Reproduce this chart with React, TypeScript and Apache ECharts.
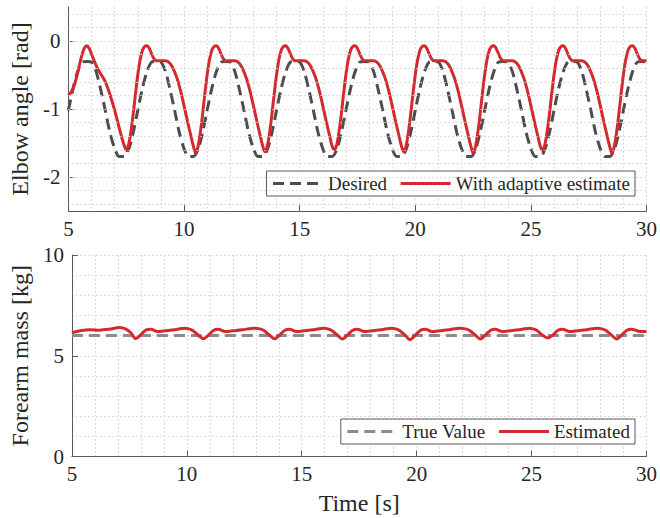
import React, { useEffect, useRef } from 'react';
import * as echarts from 'echarts';

// ---------- data ----------
const X_TICKS = [5, 10, 15, 20, 25, 30];
const ANGLE_TICKS = [-2, -1, 0];
const ANGLE_GRID = [0.4, 0.2, 0, -0.2, -0.4, -0.6, -0.8, -1, -1.2, -1.4, -1.6, -1.8, -2, -2.2, -2.4];
const MASS_TICKS = [0, 5, 10];

// Elbow angle, desired trajectory [time s, rad]
const desiredAngle: [number, number][] = [
  [5.0, -1.02], [5.2, -0.70], [5.4, -0.45], [5.6, -0.31], [5.8, -0.30], [6.0, -0.31], [6.2, -0.45], [6.4, -0.72], [6.6, -1.03], [6.8, -1.35], [7.0, -1.58], [7.2, -1.70], [7.4, -1.70], [7.6, -1.60], [7.8, -1.35],
  [8.0, -1.02], [8.2, -0.70], [8.4, -0.45], [8.6, -0.31], [8.8, -0.30], [9.0, -0.31], [9.2, -0.45], [9.4, -0.72], [9.6, -1.03], [9.8, -1.35], [10.0, -1.58], [10.2, -1.70], [10.4, -1.70], [10.6, -1.60], [10.8, -1.35],
  [11.0, -1.02], [11.2, -0.70], [11.4, -0.45], [11.6, -0.31], [11.8, -0.30], [12.0, -0.31], [12.2, -0.45], [12.4, -0.72], [12.6, -1.03], [12.8, -1.35], [13.0, -1.58], [13.2, -1.70], [13.4, -1.70], [13.6, -1.60], [13.8, -1.35],
  [14.0, -1.02], [14.2, -0.70], [14.4, -0.45], [14.6, -0.31], [14.8, -0.30], [15.0, -0.31], [15.2, -0.45], [15.4, -0.72], [15.6, -1.03], [15.8, -1.35], [16.0, -1.58], [16.2, -1.70], [16.4, -1.70], [16.6, -1.60], [16.8, -1.35],
  [17.0, -1.02], [17.2, -0.70], [17.4, -0.45], [17.6, -0.31], [17.8, -0.30], [18.0, -0.31], [18.2, -0.45], [18.4, -0.72], [18.6, -1.03], [18.8, -1.35], [19.0, -1.58], [19.2, -1.70], [19.4, -1.70], [19.6, -1.60], [19.8, -1.35],
  [20.0, -1.02], [20.2, -0.70], [20.4, -0.45], [20.6, -0.31], [20.8, -0.30], [21.0, -0.31], [21.2, -0.45], [21.4, -0.72], [21.6, -1.03], [21.8, -1.35], [22.0, -1.58], [22.2, -1.70], [22.4, -1.70], [22.6, -1.60], [22.8, -1.35],
  [23.0, -1.02], [23.2, -0.70], [23.4, -0.45], [23.6, -0.31], [23.8, -0.30], [24.0, -0.31], [24.2, -0.45], [24.4, -0.72], [24.6, -1.03], [24.8, -1.35], [25.0, -1.58], [25.2, -1.70], [25.4, -1.70], [25.6, -1.60], [25.8, -1.35],
  [26.0, -1.02], [26.2, -0.70], [26.4, -0.45], [26.6, -0.31], [26.8, -0.30], [27.0, -0.31], [27.2, -0.45], [27.4, -0.72], [27.6, -1.03], [27.8, -1.35], [28.0, -1.58], [28.2, -1.70], [28.4, -1.70], [28.6, -1.60], [28.8, -1.35],
  [29.0, -1.02], [29.2, -0.70], [29.4, -0.45], [29.6, -0.31], [29.8, -0.30], [30.0, -0.31],
];

// Elbow angle with adaptive estimate [time s, rad]
const adaptiveAngle: [number, number][] = [
  [5.0, -0.80], [5.1, -0.76], [5.2, -0.70], [5.3, -0.60], [5.4, -0.47], [5.5, -0.32], [5.6, -0.19], [5.7, -0.10], [5.8, -0.07], [5.9, -0.11], [6.0, -0.19], [6.1, -0.28], [6.2, -0.36], [6.3, -0.43], [6.45, -0.51], [6.6, -0.60], [6.75, -0.74], [6.9, -0.90], [7.05, -1.08], [7.2, -1.28], [7.35, -1.47], [7.45, -1.57],
  [7.5, -1.61], [7.6, -1.53], [7.7, -1.34], [7.8, -1.08], [7.9, -0.78], [8.0, -0.50], [8.1, -0.28], [8.2, -0.14], [8.3, -0.08], [8.4, -0.07], [8.5, -0.11], [8.6, -0.19], [8.7, -0.26], [8.8, -0.29], [9.0, -0.29], [9.2, -0.29], [9.4, -0.33], [9.55, -0.42], [9.7, -0.55], [9.85, -0.73], [10.0, -0.95], [10.15, -1.18], [10.3, -1.40], [10.4, -1.54],
  [10.5, -1.65], [10.6, -1.56], [10.7, -1.36], [10.8, -1.09], [10.9, -0.78], [11.0, -0.50], [11.1, -0.28], [11.2, -0.14], [11.3, -0.08], [11.4, -0.07], [11.5, -0.11], [11.6, -0.19], [11.7, -0.26], [11.8, -0.29], [12.0, -0.29], [12.2, -0.29], [12.4, -0.33], [12.55, -0.42], [12.7, -0.55], [12.85, -0.73], [13.0, -0.95], [13.15, -1.18], [13.3, -1.40], [13.4, -1.54],
  [13.5, -1.63], [13.6, -1.55], [13.7, -1.35], [13.8, -1.08], [13.9, -0.78], [14.0, -0.50], [14.1, -0.28], [14.2, -0.14], [14.3, -0.08], [14.4, -0.07], [14.5, -0.11], [14.6, -0.19], [14.7, -0.26], [14.8, -0.29], [15.0, -0.29], [15.2, -0.29], [15.4, -0.33], [15.55, -0.42], [15.7, -0.55], [15.85, -0.73], [16.0, -0.95], [16.15, -1.18], [16.3, -1.40], [16.4, -1.54],
  [16.5, -1.60], [16.6, -1.53], [16.7, -1.34], [16.8, -1.08], [16.9, -0.78], [17.0, -0.50], [17.1, -0.28], [17.2, -0.14], [17.3, -0.08], [17.4, -0.07], [17.5, -0.11], [17.6, -0.19], [17.7, -0.26], [17.8, -0.29], [18.0, -0.29], [18.2, -0.29], [18.4, -0.33], [18.55, -0.42], [18.7, -0.55], [18.85, -0.73], [19.0, -0.95], [19.15, -1.18], [19.3, -1.40], [19.4, -1.54],
  [19.5, -1.63], [19.6, -1.55], [19.7, -1.35], [19.8, -1.08], [19.9, -0.78], [20.0, -0.50], [20.1, -0.28], [20.2, -0.14], [20.3, -0.08], [20.4, -0.07], [20.5, -0.11], [20.6, -0.19], [20.7, -0.26], [20.8, -0.29], [21.0, -0.29], [21.2, -0.29], [21.4, -0.33], [21.55, -0.42], [21.7, -0.55], [21.85, -0.73], [22.0, -0.95], [22.15, -1.18], [22.3, -1.40], [22.4, -1.54],
  [22.5, -1.65], [22.6, -1.56], [22.7, -1.36], [22.8, -1.09], [22.9, -0.78], [23.0, -0.50], [23.1, -0.28], [23.2, -0.14], [23.3, -0.08], [23.4, -0.07], [23.5, -0.11], [23.6, -0.19], [23.7, -0.26], [23.8, -0.29], [24.0, -0.29], [24.2, -0.29], [24.4, -0.33], [24.55, -0.42], [24.7, -0.55], [24.85, -0.73], [25.0, -0.95], [25.15, -1.18], [25.3, -1.40], [25.4, -1.54],
  [25.5, -1.61], [25.6, -1.53], [25.7, -1.34], [25.8, -1.08], [25.9, -0.78], [26.0, -0.50], [26.1, -0.28], [26.2, -0.14], [26.3, -0.08], [26.4, -0.07], [26.5, -0.11], [26.6, -0.19], [26.7, -0.26], [26.8, -0.29], [27.0, -0.29], [27.2, -0.29], [27.4, -0.33], [27.55, -0.42], [27.7, -0.55], [27.85, -0.73], [28.0, -0.95], [28.15, -1.18], [28.3, -1.40], [28.4, -1.54],
  [28.5, -1.65], [28.6, -1.56], [28.7, -1.36], [28.8, -1.09], [28.9, -0.78], [29.0, -0.50], [29.1, -0.28], [29.2, -0.14], [29.3, -0.08], [29.4, -0.07], [29.5, -0.11], [29.6, -0.19], [29.7, -0.26], [29.8, -0.29], [30.0, -0.29],
];

// Forearm mass, true value [time s, kg]
const trueMass: [number, number][] = [[5, 6.0], [30, 6.0]];

// Forearm mass, estimated [time s, kg]
const estimatedMass: [number, number][] = [
  [5.0, 6.15], [5.36, 6.24], [5.78, 6.29], [6.21, 6.27], [6.64, 6.32], [7.07, 6.40], [7.33, 6.33], [7.56, 6.14], [7.78, 5.85], [7.98, 6.02], [8.22, 6.28], [8.43, 6.32], [8.73, 6.20], [9.08, 6.24], [9.48, 6.29], [9.9, 6.37],
  [10.12, 6.32], [10.27, 6.24], [10.5, 6.02], [10.72, 5.85], [10.92, 6.00], [11.17, 6.27], [11.37, 6.32], [11.67, 6.20], [12.02, 6.24], [12.42, 6.29], [12.95, 6.37],
  [13.22, 6.32], [13.37, 6.24], [13.6, 6.02], [13.82, 5.84], [14.02, 6.00], [14.27, 6.27], [14.47, 6.32], [14.77, 6.20], [15.12, 6.24], [15.52, 6.29], [15.97, 6.37],
  [16.17, 6.32], [16.32, 6.24], [16.55, 6.02], [16.77, 5.83], [16.97, 6.00], [17.22, 6.27], [17.42, 6.32], [17.72, 6.20], [18.07, 6.24], [18.47, 6.29], [18.92, 6.37],
  [19.12, 6.32], [19.27, 6.24], [19.5, 6.02], [19.72, 5.80], [19.92, 6.00], [20.17, 6.27], [20.37, 6.32], [20.67, 6.20], [21.02, 6.24], [21.42, 6.29], [21.87, 6.37],
  [22.17, 6.32], [22.32, 6.24], [22.55, 6.02], [22.77, 5.83], [22.97, 6.00], [23.22, 6.27], [23.42, 6.32], [23.72, 6.20], [24.07, 6.24], [24.47, 6.29], [24.92, 6.37],
  [25.1, 6.32], [25.25, 6.24], [25.48, 6.02], [25.7, 5.88], [25.9, 6.00], [26.15, 6.27], [26.35, 6.32], [26.65, 6.20], [27.0, 6.24], [27.4, 6.29], [27.85, 6.37],
  [28.1, 6.32], [28.25, 6.24], [28.48, 6.02], [28.7, 5.83], [28.9, 6.00], [29.15, 6.27], [29.35, 6.32], [29.65, 6.22], [30.0, 6.20],
];

// ---------- styles ----------
const FONT = 'Liberation Serif';
const TEXT = '#262626';
const AXIS = '#5a5a5a';
const RED = '#d42a2f';
const DARK = '#4d4d4d';
const GRAY = '#8c8c8c';
const GRID_LINE = { color: '#d2d2d2', type: [1.5, 2.5] as any, width: 1 };
const DASH = [11, 6];

export default function App() {
  const ref = useRef<HTMLDivElement>(null);

  useEffect(() => {
    if (!ref.current) return;
    const chart = echarts.init(ref.current, undefined, { renderer: 'svg' });

    const xAxisBase = (gridIndex: number) => ({
      gridIndex,
      type: 'value',
      min: 5,
      max: 30,
      interval: 5,
      axisLine: { show: true, onZero: false, lineStyle: { color: AXIS, width: 1 } },
      axisTick: { show: true, inside: true, length: 6, customValues: X_TICKS, lineStyle: { color: AXIS } },
      axisLabel: { fontFamily: FONT, fontSize: 21, color: TEXT, margin: 7, customValues: X_TICKS },
      splitLine: { show: true, lineStyle: GRID_LINE },
      minorTick: { show: false, splitNumber: 5 },
      minorSplitLine: { show: true, lineStyle: GRID_LINE },
    });

    const legendBase = {
      orient: 'horizontal',
      right: 25,
      itemWidth: 50,
      itemHeight: 14,
      itemGap: 12,
      padding: [3, 5],
      borderColor: '#595959',
      borderWidth: 1,
      backgroundColor: '#ffffff',
      selectedMode: false,
      itemStyle: { opacity: 0 },
      lineStyle: { width: 3 },
      textStyle: { fontFamily: FONT, fontSize: 19, color: TEXT },
    };

    chart.setOption({
      animation: false,
      backgroundColor: '#ffffff',
      grid: [
        { left: 65.5, top: 7, width: 583, height: 204 },
        { left: 65.5, top: 255, width: 583, height: 201.5 },
      ],
      xAxis: [
        { ...xAxisBase(0) },
        {
          ...xAxisBase(1),
          name: 'Time [s]',
          nameLocation: 'middle',
          nameGap: 34,
          nameTextStyle: { fontFamily: FONT, fontSize: 24, color: TEXT },
        },
      ],
      yAxis: [
        {
          gridIndex: 0,
          type: 'value',
          min: -2.5,
          max: 0.5,
          name: 'Elbow angle [rad]',
          nameLocation: 'middle',
          nameGap: 32,
          nameTextStyle: { fontFamily: FONT, fontSize: 24, color: TEXT },
          axisLine: { show: true, onZero: false, lineStyle: { color: AXIS, width: 1 } },
          axisTick: { show: true, inside: true, length: 6, customValues: ANGLE_TICKS, lineStyle: { color: AXIS } },
          axisLabel: { fontFamily: FONT, fontSize: 21, color: TEXT, margin: 8, customValues: ANGLE_TICKS },
          splitLine: { show: false },
        },
        {
          gridIndex: 1,
          type: 'value',
          min: 0,
          max: 10,
          interval: 5,
          name: 'Forearm mass [kg]',
          nameLocation: 'middle',
          nameGap: 35,
          nameTextStyle: { fontFamily: FONT, fontSize: 24, color: TEXT },
          axisLine: { show: true, onZero: false, lineStyle: { color: AXIS, width: 1 } },
          axisTick: { show: true, inside: true, length: 6, customValues: MASS_TICKS, lineStyle: { color: AXIS } },
          axisLabel: { fontFamily: FONT, fontSize: 21, color: TEXT, margin: 8, customValues: MASS_TICKS },
          splitLine: { show: true, lineStyle: GRID_LINE },
          minorTick: { show: false, splitNumber: 5 },
          minorSplitLine: { show: true, lineStyle: GRID_LINE },
        },
      ],
      legend: [
        { ...legendBase, top: 171, data: ['Desired', 'With adaptive estimate'] },
        { ...legendBase, top: 419, data: ['True Value', 'Estimated'] },
      ],
      series: [
        {
          name: '_grid',
          type: 'line',
          xAxisIndex: 0,
          yAxisIndex: 0,
          data: [],
          silent: true,
          z: 1,
          markLine: {
            silent: true,
            symbol: ['none', 'none'],
            label: { show: false },
            emphasis: { disabled: true },
            lineStyle: GRID_LINE,
            data: ANGLE_GRID.map((v) => ({ yAxis: v })),
          },
        },
        {
          name: 'Desired',
          type: 'line',
          xAxisIndex: 0,
          yAxisIndex: 0,
          data: desiredAngle,
          symbol: 'none',
          smooth: 0.3,
          z: 3,
          itemStyle: { color: DARK },
          lineStyle: { color: DARK, width: 3, type: DASH },
        },
        {
          name: 'With adaptive estimate',
          type: 'line',
          xAxisIndex: 0,
          yAxisIndex: 0,
          data: adaptiveAngle,
          symbol: 'none',
          smooth: 0.3,
          z: 4,
          itemStyle: { color: RED },
          lineStyle: { color: RED, width: 3 },
        },
        {
          name: 'True Value',
          type: 'line',
          xAxisIndex: 1,
          yAxisIndex: 1,
          data: trueMass,
          symbol: 'none',
          z: 3,
          itemStyle: { color: GRAY },
          lineStyle: { color: GRAY, width: 3, type: DASH },
        },
        {
          name: 'Estimated',
          type: 'line',
          xAxisIndex: 1,
          yAxisIndex: 1,
          data: estimatedMass,
          symbol: 'none',
          smooth: 0.3,
          z: 4,
          itemStyle: { color: RED },
          lineStyle: { color: RED, width: 3 },
        },
      ],
    } as any);

    return () => chart.dispose();
  }, []);

  return (
    <div
      ref={ref}
      style={{ position: 'absolute', left: 0, top: 0, width: 660, height: 518, background: '#fff' }}
    />
  );
}
